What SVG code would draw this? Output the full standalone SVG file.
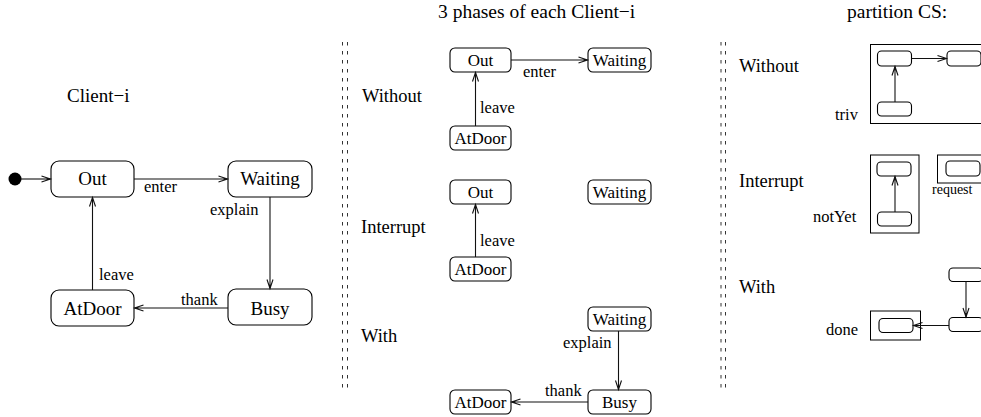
<svg xmlns="http://www.w3.org/2000/svg" width="981" height="417" viewBox="0 0 981 417">
<style>
text{font-family:"Liberation Serif","Times New Roman",serif;fill:#000}
.n{font-size:19px;text-anchor:middle}
.ns{font-size:17px;text-anchor:middle}
.lb{font-size:16.5px}
.sec{font-size:18.5px}
.ttl{font-size:19.5px}
.st{fill:#fff;stroke:#000;stroke-width:1.1}
.box{fill:none;stroke:#000;stroke-width:1}
.c{fill:none;stroke:#111;stroke-width:1.1;marker-end:url(#ah)}
.dash{stroke:#333;stroke-width:1;stroke-dasharray:3.5 5.5}
</style>
<defs>
<marker id="ah" markerUnits="userSpaceOnUse" markerWidth="12" markerHeight="10" refX="10" refY="4" orient="auto" overflow="visible">
<path d="M1,1 L10,4 L1,7 M6,4 L10,4" fill="none" stroke="#111" stroke-width="1.1"/>
</marker>
</defs>
<rect width="981" height="417" fill="#fff"/>

<!-- Left: Client-i -->
<text class="n" x="67" y="102" style="text-anchor:start">Client−i</text>
<g id="init"><circle cx="15" cy="179" r="6.5" fill="#000"/></g>
<g id="out"><rect class="st" x="51" y="161" width="83" height="36" rx="8"/><text class="n" x="92.5" y="185">Out</text></g>
<g id="waiting"><rect class="st" x="228" y="161" width="84" height="36" rx="8"/><text class="n" x="270" y="185">Waiting</text></g>
<g id="busy"><rect class="st" x="228" y="289" width="84" height="36" rx="8"/><text class="n" x="270" y="315">Busy</text></g>
<g id="atdoor"><rect class="st" x="51" y="290" width="83" height="36" rx="8"/><text class="n" x="92.5" y="315">AtDoor</text></g>

<!-- Middle -->
<text class="ttl" x="438" y="18">3 phases of each Client−i</text>
<line class="dash" x1="342.5" y1="42" x2="342.5" y2="390"/>
<line class="dash" x1="347.5" y1="42" x2="347.5" y2="390"/>
<text class="sec" x="362" y="102">Without</text>
<text class="sec" x="361" y="233">Interrupt</text>
<text class="sec" x="361" y="342">With</text>
<g id="w-out"><rect class="st" x="450" y="48" width="61" height="24" rx="5"/><text class="ns" x="480.5" y="66">Out</text></g>
<g id="w-waiting"><rect class="st" x="588" y="48" width="63" height="24" rx="5"/><text class="ns" x="619.5" y="66">Waiting</text></g>
<g id="w-atdoor"><rect class="st" x="450" y="126" width="61" height="24" rx="5"/><text class="ns" x="480.5" y="144">AtDoor</text></g>
<g id="i-out"><rect class="st" x="450" y="180" width="61" height="24" rx="5"/><text class="ns" x="480.5" y="198">Out</text></g>
<g id="i-waiting"><rect class="st" x="588" y="180" width="63" height="24" rx="5"/><text class="ns" x="619.5" y="198">Waiting</text></g>
<g id="i-atdoor"><rect class="st" x="450" y="257" width="61" height="24" rx="5"/><text class="ns" x="480.5" y="275">AtDoor</text></g>
<g id="h-waiting"><rect class="st" x="588" y="307" width="63" height="24" rx="5"/><text class="ns" x="619.5" y="325">Waiting</text></g>
<g id="h-busy"><rect class="st" x="588" y="390" width="63" height="24" rx="5"/><text class="ns" x="619.5" y="408">Busy</text></g>
<g id="h-atdoor"><rect class="st" x="450" y="390" width="61" height="24" rx="5"/><text class="ns" x="480.5" y="408">AtDoor</text></g>

<!-- Right: partition CS -->
<text class="ttl" x="847" y="18">partition CS:</text>
<line class="dash" x1="721" y1="42" x2="721" y2="390"/>
<line class="dash" x1="725.5" y1="42" x2="725.5" y2="390"/>
<text class="sec" x="739" y="72">Without</text>
<text class="sec" x="739" y="187">Interrupt</text>
<text class="sec" x="739" y="293">With</text>

<g id="triv"><rect class="box" x="870.5" y="44.5" width="130" height="79"/><text class="lb" x="835" y="120">triv</text></g>
<g id="p-w1"><rect class="st" x="877.5" y="51" width="34" height="15" rx="4"/></g>
<g id="p-w2"><rect class="st" x="947" y="51" width="34" height="15" rx="4"/></g>
<g id="p-w3"><rect class="st" x="877.5" y="102" width="34" height="14" rx="4"/></g>

<g id="notyet"><rect class="box" x="870.5" y="155" width="48.5" height="78"/><text class="lb" x="813" y="222">notYet</text></g>
<g id="p-i1"><rect class="st" x="877" y="162" width="34" height="14" rx="4"/></g>
<g id="p-i3"><rect class="st" x="877.5" y="212" width="34" height="14" rx="4"/></g>
<g id="request"><rect class="box" x="937.5" y="155" width="60" height="28"/><text x="932" y="194" style="font-size:14px">request</text></g>
<g id="p-i2"><rect class="st" x="946" y="161" width="34" height="15" rx="4"/></g>

<g id="done"><rect class="box" x="870.5" y="311" width="50" height="29"/><text class="lb" x="826" y="335">done</text></g>
<g id="p-h3"><rect class="st" x="879" y="318.5" width="34" height="14" rx="4"/></g>
<g id="p-h1"><rect class="st" x="949" y="268" width="34" height="13.5" rx="4"/></g>
<g id="p-h2"><rect class="st" x="949" y="317.5" width="34" height="14" rx="4"/></g>

<!-- Connectors -->
<g id="connectors">
<line class="c" x1="21" y1="179" x2="50.5" y2="179"/>
<line class="c" x1="134" y1="179" x2="227.5" y2="179"/>
<line class="c" x1="270" y1="197" x2="270" y2="288.5"/>
<line class="c" x1="228" y1="308" x2="134.5" y2="308"/>
<line class="c" x1="92.5" y1="290" x2="92.5" y2="197.5"/>
<line class="c" x1="511" y1="60" x2="587.5" y2="60"/>
<line class="c" x1="475.5" y1="126" x2="475.5" y2="72.5"/>
<line class="c" x1="475.5" y1="257" x2="475.5" y2="204.5"/>
<line class="c" x1="618.5" y1="331" x2="618.5" y2="389.5"/>
<line class="c" x1="588" y1="402" x2="511.5" y2="402"/>
<line class="c" x1="911.5" y1="58.5" x2="946.5" y2="58.5"/>
<line class="c" x1="895" y1="102" x2="895" y2="66.5"/>
<line class="c" x1="895" y1="212" x2="895" y2="176.5"/>
<line class="c" x1="966" y1="281.5" x2="966" y2="317"/>
<line class="c" x1="949" y1="325.5" x2="913.5" y2="325.5"/>
</g>
<g id="labels">
<text class="lb" x="144" y="192">enter</text>
<text class="lb" x="210" y="215">explain</text>
<text class="lb" x="181" y="305">thank</text>
<text class="lb" x="99" y="280">leave</text>
<text class="lb" x="523" y="77">enter</text>
<text class="lb" x="480" y="113">leave</text>
<text class="lb" x="480" y="246">leave</text>
<text class="lb" x="563" y="348">explain</text>
<text class="lb" x="545" y="396">thank</text>
</g>
</svg>
